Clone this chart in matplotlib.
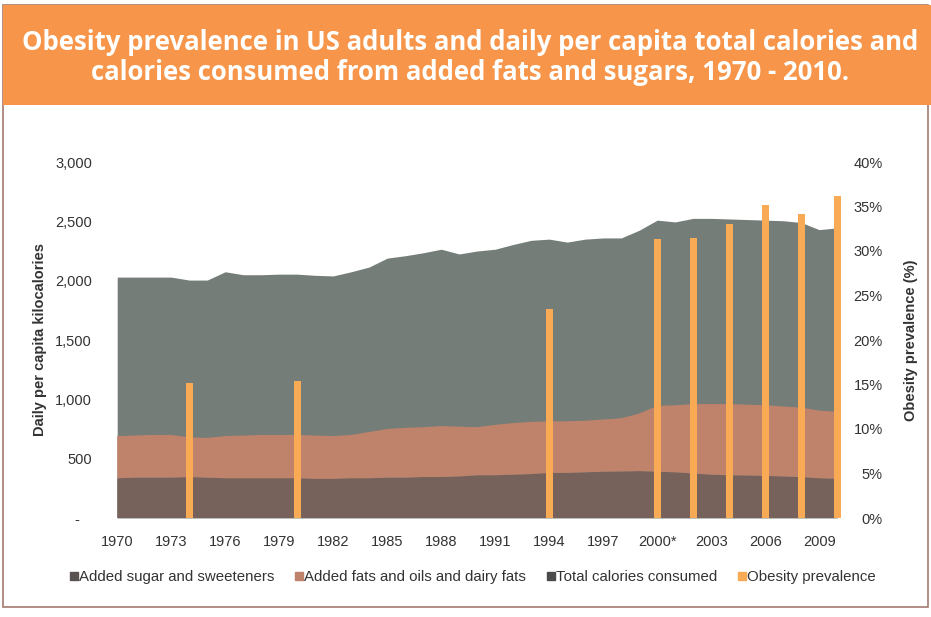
import matplotlib
matplotlib.use('Agg')
import matplotlib.pyplot as plt
from matplotlib.patches import Rectangle
from matplotlib.lines import Line2D

plt.rcParams['font.family'] = ['Liberation Sans', 'DejaVu Sans']

# data
years = list(range(1970, 2011))
total_cal = [2030, 2030, 2030, 2030, 2005, 2005, 2075, 2050, 2050, 2055,
             2055, 2045, 2040, 2075, 2115, 2190, 2210, 2235, 2265, 2225,
             2250, 2265, 2305, 2340, 2350, 2325, 2350, 2360, 2360, 2425,
             2510, 2495, 2525, 2525, 2520, 2515, 2510, 2505, 2490, 2430, 2445]
fats_top = [690, 695, 700, 700, 680, 675, 690, 695, 700, 700,
            700, 695, 690, 700, 725, 750, 760, 765, 775, 770,
            765, 785, 800, 810, 815, 815, 820, 830, 840, 880,
            945, 950, 960, 960, 960, 955, 950, 940, 930, 905, 895]
sugar_cal = [335, 340, 340, 340, 345, 340, 335, 335, 335, 335,
             335, 330, 330, 335, 335, 340, 340, 345, 345, 350,
             360, 360, 365, 370, 380, 380, 385, 390, 392, 395,
             390, 385, 375, 365, 360, 358, 355, 350, 345, 335, 330]
fats_cal = [f - s for f, s in zip(fats_top, sugar_cal)]

obesity_years = [1974, 1980, 1994, 2000, 2002, 2004, 2006, 2008, 2010]
obesity_pct = [15.2, 15.4, 23.5, 31.3, 31.5, 33.0, 35.2, 34.2, 36.2]

tick_years = list(range(1970, 2010, 3))
tick_labels = [str(y) + ('*' if y == 2000 else '') for y in tick_years]

c_total = '#747d78'
c_fats = '#bf826b'
c_sugar = '#76625a'
c_obese = '#f9aa55'
c_banner = '#f7964a'
c_text = '#333333'

W, H = 931, 617
fig = plt.figure(figsize=(W / 100, H / 100), dpi=100)

# frame and title banner
fig.patches.append(Rectangle((3 / W, 1 - 607 / H), 925 / W, 602 / H, transform=fig.transFigure,
                             facecolor='none', edgecolor='#a47a70', lw=1.2, zorder=0))
fig.patches.append(Rectangle((3 / W, 1 - 105 / H), 928 / W, 100 / H, transform=fig.transFigure,
                             facecolor=c_banner, edgecolor='none', zorder=1))
fig.text(470 / W, 1 - 42 / H, 'Obesity prevalence in US adults and daily per capita total calories and',
         ha='center', va='center', color='white', fontsize=18.5, fontweight='bold', family='Open Sans')
fig.text(470 / W, 1 - 73 / H, 'calories consumed from added fats and sugars, 1970 - 2010.',
         ha='center', va='center', color='white', fontsize=18.5, fontweight='bold', family='Open Sans')

ax1 = fig.add_axes([110 / W, 1 - 518 / H, 738 / W, 356 / H])
ax1.patch.set_visible(False)
ax1.fill_between(years, 0, total_cal, color=c_total, lw=0)
ax1.stackplot(years, sugar_cal, fats_cal, colors=[c_sugar, c_fats], lw=0)
ax1.set_xlim(1969.6, 2010.6)
ax1.set_ylim(0, 3000)
ax1.set_yticks(range(0, 3001, 500))
ax1.set_yticklabels(['-   '] + ['{:,}'.format(v) for v in range(500, 3001, 500)])
ax1.set_xticks(tick_years)
ax1.set_xticklabels(tick_labels)
ax1.tick_params(axis='both', length=0, labelsize=10.5, colors=c_text)
ax1.tick_params(axis='y', pad=13)
ax1.tick_params(axis='x', pad=12)
ax1.set_ylabel('Daily per capita kilocalories', fontsize=10.5, fontweight='bold', color=c_text, labelpad=6)
for s in ax1.spines.values():
    s.set_visible(False)

ax2 = ax1.twinx()
ax2.patch.set_visible(False)
ax2.bar(obesity_years, obesity_pct, width=0.38, color=c_obese, lw=0)
ax2.set_ylim(0, 40)
ax2.set_yticks(range(0, 41, 5))
ax2.set_yticklabels([str(v) + '%' for v in range(0, 41, 5)])
ax2.tick_params(axis='y', length=0, labelsize=10.5, colors=c_text, pad=25)
for lbl in ax2.get_yticklabels():
    lbl.set_ha('right')
ax2.set_ylabel('Obesity prevalence (%)', fontsize=10.5, fontweight='bold', color=c_text, labelpad=15)
for s in ax2.spines.values():
    s.set_visible(False)

handles = [Line2D([], [], ls='none', marker='s', markersize=6, color=c)
           for c in ['#5a5250', c_fats, '#4a4a4a', c_obese]]
names = ['Added sugar and sweeteners', 'Added fats and oils and dairy fats',
         'Total calories consumed', 'Obesity prevalence']
fig.legend(handles, names, loc='center', bbox_to_anchor=(473 / W, 1 - 577 / H), ncol=4,
           frameon=False, fontsize=10.8, handlelength=0.5, handletextpad=0.1,
           columnspacing=1.4, labelcolor=c_text)

fig.savefig('out.png', dpi=100)
